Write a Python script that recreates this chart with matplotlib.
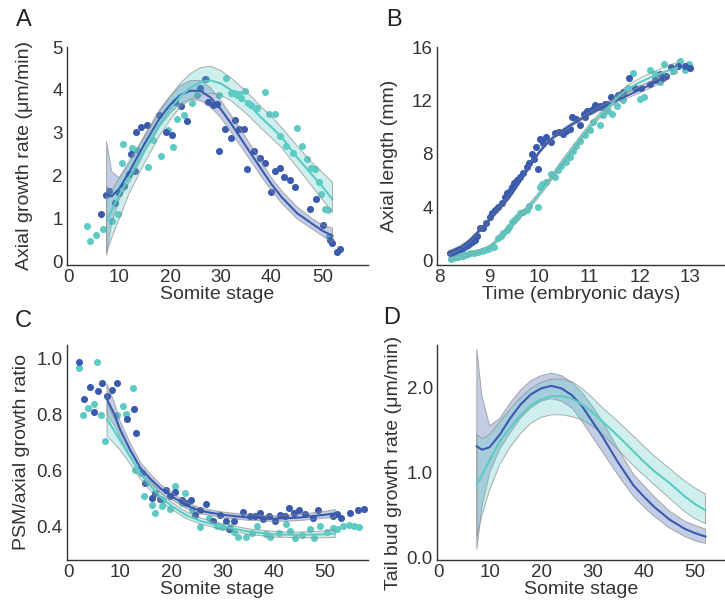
import matplotlib
matplotlib.use('Agg')
import matplotlib.pyplot as plt

plt.rcParams['font.family'] = ['Liberation Sans', 'DejaVu Sans']

BLUE = '#3a5aad'
CYAN = '#5ecac4'
TXT = '#333333'

# ---- panel A: axial growth rate vs somite stage
a_blue_x = [6.4, 7.3, 8.0, 9.2, 9.9, 11.0, 11.9, 12.4, 13.1, 13.3, 14.2, 15.4, 17.9, 19.3, 20.3, 21.0, 22.1, 23.3,
            25.9, 26.9, 27.5, 28.4, 29.3, 29.6, 30.8, 32.0, 32.8, 33.5, 34.6, 35.1, 36.5, 37.7, 38.7, 39.8, 40.6,
            41.7, 42.5, 43.6, 44.6, 47.5, 48.7, 50.1, 51.6, 52.0, 52.8, 53.4]
a_blue_y = [1.12, 1.55, 1.64, 1.37, 1.6, 1.75, 2.03, 2.5, 2.1, 3.02, 3.14, 3.19, 3.41, 3.02, 2.95, 3.72, 3.62, 3.28,
            4.05, 4.26, 3.72, 3.66, 3.68, 2.57, 3.08, 2.87, 3.31, 3.08, 3.08, 2.16, 2.58, 2.42, 2.29, 1.61, 2.12,
            2.19, 1.96, 1.9, 1.73, 1.22, 1.45, 0.85, 0.5, 0.43, 0.22, 0.29]
a_cyan_x = [3.6, 4.3, 5.5, 6.7, 8.65, 9.8, 10.5, 10.8, 12.5, 13.4, 15.7, 16.6, 18.3, 19.6, 20.6, 21.3, 22.7, 24.4,
            25.3, 27.1, 29.7, 31.1, 32.0, 32.6, 33.1, 33.6, 33.9, 34.7, 35.4, 36.0, 37.2, 38.7, 39.5, 40.6, 41.6,
            42.8, 44.2, 45.0, 46.0, 46.9, 47.7, 48.5, 49.3, 49.8, 50.5, 51.1, 51.4]
a_cyan_y = [0.84, 0.49, 0.61, 0.77, 0.94, 1.12, 2.3, 2.74, 2.64, 2.59, 2.21, 2.83, 2.46, 3.06, 2.67, 3.33, 3.42, 3.7,
            3.87, 4.26, 3.88, 4.27, 3.93, 3.93, 3.88, 3.9, 3.81, 3.98, 3.7, 3.64, 3.57, 3.94, 3.43, 3.43, 2.92,
            2.7, 2.54, 3.12, 2.7, 2.38, 2.17, 2.15, 1.86, 1.57, 1.22, 1.2, 0.6]
a_fit_x = [7.5, 8.5, 10, 12, 15, 18, 20, 22, 24, 26, 28, 30, 32, 35, 38, 40, 42, 45, 48, 50, 52]
a_blue_fit = [1.57, 1.52, 1.7, 2.1, 2.75, 3.35, 3.65, 3.88, 3.98, 3.98, 3.82, 3.55, 3.22, 2.68, 2.15, 1.8, 1.5, 1.13, 0.88, 0.72, 0.6]
a_blue_lo = [0.15, 0.9, 1.45, 1.85, 2.55, 3.15, 3.45, 3.68, 3.78, 3.75, 3.6, 3.35, 3.02, 2.5, 1.98, 1.65, 1.36, 1.0, 0.76, 0.6, 0.45]
a_blue_hi = [2.8, 2.1, 1.95, 2.3, 2.95, 3.55, 3.85, 4.1, 4.22, 4.22, 4.05, 3.75, 3.42, 2.88, 2.32, 1.95, 1.65, 1.28, 1.0, 0.85, 0.78]
a_cyan_fit = [0.95, 1.2, 1.55, 1.98, 2.6, 3.2, 3.55, 3.85, 4.05, 4.18, 4.22, 4.15, 4.0, 3.72, 3.35, 3.13, 2.9, 2.43, 2.02, 1.75, 1.45]
a_cyan_lo = [0.2, 0.55, 1.0, 1.6, 2.3, 2.95, 3.3, 3.6, 3.78, 3.88, 3.92, 3.88, 3.75, 3.45, 3.1, 2.88, 2.65, 2.2, 1.75, 1.45, 1.15]
a_cyan_hi = [1.75, 1.65, 1.95, 2.35, 2.9, 3.5, 3.85, 4.15, 4.38, 4.52, 4.55, 4.45, 4.28, 3.97, 3.6, 3.38, 3.12, 2.7, 2.3, 2.08, 1.85]

# ---- panel B: axial length vs time
b_blue_x = [8.22, 8.27, 8.32, 8.36, 8.39, 8.44, 8.48, 8.53, 8.58, 8.62, 8.65, 8.7, 8.72, 8.76, 8.82, 8.88, 8.94,
            9.02, 9.05, 9.12, 9.18, 9.25, 9.31, 9.36, 9.41, 9.45, 9.49, 9.55, 9.61, 9.68, 9.75, 9.8, 9.85, 9.9,
            9.93, 9.98, 10.01, 10.08, 10.14, 10.23, 10.32, 10.4, 10.48, 10.54, 10.61, 10.66, 10.74, 10.81, 10.88,
            10.9, 10.95, 11.0, 11.07, 11.1, 11.14, 11.2, 11.24, 11.3, 11.34, 11.43, 11.57, 11.67, 11.78, 11.9,
            12.02, 12.2, 12.3, 12.4, 12.47, 12.53, 12.62, 12.76, 12.9, 13.01]
b_blue_y = [0.62, 0.7, 0.77, 0.82, 0.87, 0.92, 1.0, 1.1, 1.2, 1.32, 1.45, 1.55, 1.6, 1.87, 2.5, 2.5, 2.86,
            3.3, 3.6, 3.8, 4.0, 4.3, 4.8, 5.05, 5.2, 5.5, 5.8, 6.05, 6.3, 6.6, 7.0, 7.3, 8.0, 7.65,
            8.5, 6.9, 9.15, 8.8, 9.3, 8.9, 9.6, 9.65, 9.5, 9.7, 9.9, 10.75, 10.65, 10.2, 11.0,
            10.77, 11.2, 11.25, 11.4, 11.7, 11.5, 11.6, 11.55, 11.77, 11.75, 12.26, 12.44, 12.6, 13.68, 12.9,
            12.95, 13.25, 13.5, 14.0, 13.7, 13.8, 14.5, 14.55, 14.6, 14.45]
b_cyan_x = [8.23, 8.27, 8.32, 8.37, 8.42, 8.47, 8.52, 8.57, 8.62, 8.7, 8.78, 8.85, 8.92, 8.97, 9.02, 9.1, 9.18,
            9.23, 9.28, 9.35, 9.4, 9.45, 9.5, 9.55, 9.61, 9.68, 9.75, 9.8, 10.02, 9.98, 10.05, 10.14, 10.24, 10.31,
            10.38, 10.44, 10.53, 10.61, 10.68, 10.74, 10.81, 10.91, 11.0, 11.07, 11.2, 11.27, 11.37, 11.44, 11.54,
            11.67, 11.77, 11.87, 12.0, 12.08, 12.2, 12.3, 12.4, 12.48, 12.67, 12.8, 12.9, 12.99]
b_cyan_y = [0.12, 0.25, 0.32, 0.3, 0.37, 0.4, 0.45, 0.5, 0.57, 0.62, 0.7, 0.75, 0.82, 0.9, 0.95, 1.07, 1.69,
            1.9, 2.06, 2.31, 2.56, 2.94, 3.06, 3.3, 3.56, 3.68, 3.8, 4.1, 5.5, 4.05, 5.75, 5.92, 6.54, 6.3,
            6.8, 7.1, 7.4, 7.8, 8.2, 8.6, 9.0, 9.4, 9.8, 10.4, 10.15, 10.9, 11.2, 11.0, 11.6,
            12.0, 12.95, 14.05, 12.1, 12.25, 14.3, 13.95, 13.4, 14.75, 14.2, 14.95, 14.25, 14.7]
b_blue_fit_x = [8.2, 8.4, 8.6, 8.8, 9.0, 9.2, 9.4, 9.6, 9.8, 10.0, 10.2, 10.4, 10.6, 10.8, 11.0, 11.2, 11.4,
                11.6, 11.8, 12.0, 12.2, 12.4, 12.5]
b_blue_fit = [0.62, 0.95, 1.5, 2.25, 3.05, 3.9, 4.75, 5.85, 7.05, 8.15, 9.0, 9.6, 10.1, 10.55, 11.0, 11.38, 11.75,
              12.1, 12.45, 12.8, 13.15, 13.55, 13.8]
b_blue_ci = [0.15, 0.12, 0.12, 0.12, 0.12, 0.12, 0.12, 0.12, 0.12, 0.12, 0.12, 0.12, 0.12, 0.12, 0.12, 0.14, 0.16,
             0.18, 0.2, 0.22, 0.25, 0.3, 0.35]
b_cyan_fit_x = [8.2, 8.4, 8.6, 8.8, 9.0, 9.2, 9.4, 9.6, 9.8, 10.0, 10.2, 10.4, 10.6, 10.8, 11.0, 11.2, 11.4,
                11.6, 11.8, 12.0, 12.2, 12.4, 12.6, 12.75]
b_cyan_fit = [0.15, 0.3, 0.5, 0.72, 1.05, 1.65, 2.45, 3.3, 4.1, 5.0, 6.0, 7.1, 8.1, 9.1, 10.05, 10.85, 11.6,
              12.4, 12.95, 13.35, 13.7, 14.0, 14.28, 14.45]
b_cyan_ci = [0.12, 0.1, 0.1, 0.1, 0.1, 0.12, 0.14, 0.16, 0.18, 0.18, 0.18, 0.18, 0.18, 0.18, 0.18, 0.2, 0.22,
             0.25, 0.28, 0.3, 0.32, 0.35, 0.38, 0.4]

# ---- panel C: PSM/axial growth ratio
c_blue_x = [2.1, 3.1, 4.1, 5.0, 5.8, 6.5, 7.5, 8.4, 9.4, 11.4, 12.7, 13.2, 14.3, 14.9, 16.2, 16.9, 17.9, 19.0,
            19.8, 20.8, 22.1, 23.1, 23.8, 24.7, 25.6, 26.9, 28.2, 29.5, 30.8, 31.2, 32.3, 34.0, 35.4, 36.4, 37.3,
            38.0, 39.0, 40.3, 41.2, 42.2, 43.0, 43.9, 45.0, 46.1, 47.6, 48.7, 51.5, 52.4, 53.1, 54.9, 56.4, 57.6]
c_blue_y = [0.99, 0.858, 0.9, 0.81, 0.884, 0.914, 0.869, 0.89, 0.914, 0.785, 0.82, 0.735, 0.59, 0.556, 0.502,
            0.52, 0.498, 0.53, 0.508, 0.522, 0.496, 0.484, 0.496, 0.44, 0.46, 0.48, 0.42, 0.44, 0.42, 0.39, 0.418,
            0.452, 0.437, 0.436, 0.45, 0.428, 0.438, 0.42, 0.44, 0.436, 0.465, 0.448, 0.459, 0.446, 0.43, 0.46,
            0.439, 0.446, 0.43, 0.45, 0.458, 0.464]
c_cyan_x = [2.1, 2.9, 3.7, 4.9, 5.5, 6.4, 7.1, 9.5, 10.6, 11.2, 12.5, 13.0, 13.6, 14.7, 16.2, 16.9, 18.2, 18.5,
            19.8, 20.8, 22.1, 22.7, 24.0, 25.6, 27.3, 28.9, 29.9, 31.5, 32.2, 33.1, 34.6, 35.8, 36.7, 38.5, 39.2,
            41.1, 42.4, 43.2, 44.1, 45.6, 47.1, 47.9, 49.0, 50.5, 51.5, 52.4, 53.5, 54.7, 55.6, 56.6]
c_cyan_y = [0.968, 0.8, 0.824, 0.84, 0.99, 0.8, 0.707, 0.8, 0.833, 0.803, 0.896, 0.603, 0.603, 0.51, 0.478,
            0.45, 0.474, 0.496, 0.462, 0.546, 0.484, 0.52, 0.458, 0.397, 0.43, 0.4, 0.398, 0.398, 0.38, 0.362,
            0.362, 0.376, 0.4, 0.373, 0.362, 0.376, 0.41, 0.385, 0.36, 0.37, 0.39, 0.36, 0.4, 0.38, 0.395, 0.39,
            0.4, 0.405, 0.4, 0.398]
c_fit_x = [7.5, 9, 10, 12, 14, 16, 18, 20, 23, 26, 30, 35, 40, 45, 50, 52]
c_blue_fit = [0.855, 0.8, 0.75, 0.675, 0.61, 0.57, 0.535, 0.51, 0.475, 0.455, 0.442, 0.432, 0.428, 0.432, 0.442, 0.447]
c_blue_lo = [0.80, 0.76, 0.72, 0.65, 0.59, 0.553, 0.52, 0.497, 0.464, 0.445, 0.432, 0.422, 0.418, 0.421, 0.43, 0.433]
c_blue_hi = [0.91, 0.84, 0.78, 0.70, 0.63, 0.587, 0.55, 0.523, 0.486, 0.465, 0.452, 0.442, 0.438, 0.443, 0.454, 0.461]
c_cyan_fit = [0.785, 0.74, 0.71, 0.65, 0.59, 0.545, 0.505, 0.475, 0.44, 0.418, 0.4, 0.382, 0.372, 0.37, 0.372, 0.375]
c_cyan_lo = [0.725, 0.695, 0.675, 0.625, 0.57, 0.528, 0.49, 0.462, 0.428, 0.407, 0.39, 0.372, 0.362, 0.36, 0.36, 0.361]
c_cyan_hi = [0.845, 0.785, 0.745, 0.675, 0.61, 0.562, 0.52, 0.488, 0.452, 0.429, 0.41, 0.392, 0.382, 0.38, 0.384, 0.389]

# ---- panel D: tail bud growth rate (fits only)
d_fit_x = [7.5, 8.5, 10, 12, 14, 16, 18, 20, 22, 24, 26, 28, 30, 32, 35, 38, 40, 42, 45, 48, 50, 52]
d_blue_fit = [1.31, 1.27, 1.3, 1.45, 1.64, 1.8, 1.92, 1.99, 2.02, 1.99, 1.91, 1.78, 1.6, 1.42, 1.12, 0.85, 0.72, 0.6,
              0.45, 0.34, 0.29, 0.25]
d_blue_lo = [0.1, 0.6, 1.0, 1.28, 1.47, 1.64, 1.76, 1.84, 1.87, 1.84, 1.76, 1.6, 1.42, 1.24, 0.97, 0.72, 0.6, 0.49,
             0.35, 0.25, 0.2, 0.17]
d_blue_hi = [2.45, 1.9, 1.55, 1.64, 1.82, 1.97, 2.08, 2.14, 2.17, 2.14, 2.06, 1.94, 1.78, 1.6, 1.28, 0.98, 0.85, 0.72,
             0.55, 0.43, 0.38, 0.34]
d_cyan_fit = [0.86, 0.97, 1.15, 1.37, 1.53, 1.67, 1.79, 1.86, 1.9, 1.9, 1.87, 1.8, 1.71, 1.6, 1.43, 1.25, 1.13, 1.02,
              0.88, 0.72, 0.63, 0.56]
d_cyan_lo = [0.25, 0.5, 0.8, 1.1, 1.3, 1.46, 1.58, 1.65, 1.68, 1.68, 1.66, 1.62, 1.55, 1.45, 1.27, 1.08, 0.97, 0.86,
             0.7, 0.54, 0.46, 0.4]
d_cyan_hi = [1.45, 1.4, 1.45, 1.6, 1.75, 1.88, 1.99, 2.06, 2.1, 2.1, 2.07, 1.99, 1.88, 1.76, 1.6, 1.43, 1.31, 1.2,
             1.05, 0.9, 0.82, 0.75]


def setup(ax, xlim, ylim, xticks, yticks, xlabel, ylabel, ylab_x, ylab_y=0.5):
    ax.set_xlim(*xlim)
    ax.set_ylim(*ylim)
    ax.set_xticks(xticks)
    ax.set_yticks(yticks)
    for s in ['top', 'right']:
        ax.spines[s].set_visible(False)
    for s in ['left', 'bottom']:
        ax.spines[s].set_color(TXT)
        ax.spines[s].set_linewidth(1.0)
    ax.tick_params(length=0, pad=3, labelsize=13.5, labelcolor=TXT)
    ax.set_xlabel(xlabel, fontsize=14, color=TXT, labelpad=0)
    ax.set_ylabel(ylabel, fontsize=14, color=TXT)
    ax.yaxis.set_label_coords(ylab_x, ylab_y)


def band(ax, x, lo, hi, color, alpha=0.3):
    ax.fill_between(x, lo, hi, facecolor=color, alpha=alpha, zorder=2)
    ax.fill_between(x, lo, hi, facecolor='none', edgecolor='#8c8c8c', linewidth=0.7, alpha=0.7, zorder=2)


fig = plt.figure(figsize=(7.25, 6.05), dpi=100)
W, H = 725.0, 605.0
axA = fig.add_axes([67 / W, 1 - 265 / H, 301 / W, 218 / H])
axB = fig.add_axes([437 / W, 1 - 265 / H, 288 / W, 218 / H])
axC = fig.add_axes([67 / W, 1 - 560 / H, 301 / W, 215 / H])
axD = fig.add_axes([437 / W, 1 - 560 / H, 288 / W, 215 / H])

# A
axA.scatter(a_cyan_x, a_cyan_y, s=26, color=CYAN, linewidths=0, zorder=1)
axA.scatter(a_blue_x, a_blue_y, s=26, color=BLUE, linewidths=0, zorder=1)
band(axA, a_fit_x, a_blue_lo, a_blue_hi, BLUE)
band(axA, a_fit_x, a_cyan_lo, a_cyan_hi, CYAN)
axA.plot(a_fit_x, a_blue_fit, color=BLUE, lw=1.5, zorder=3)
axA.plot(a_fit_x, a_cyan_fit, color=CYAN, lw=1.5, zorder=3)
setup(axA, (-0.3, 59), (-0.08, 5.0), [0, 10, 20, 30, 40, 50], [0, 1, 2, 3, 4, 5],
      'Somite stage', 'Axial growth rate (\u03bcm/min)', -0.113)

# B
axB.scatter(b_cyan_x, b_cyan_y, s=26, color=CYAN, linewidths=0, zorder=1)
axB.scatter(b_blue_x, b_blue_y, s=26, color=BLUE, linewidths=0, zorder=1)
band(axB, b_blue_fit_x, [v - e for v, e in zip(b_blue_fit, b_blue_ci)],
     [v + e for v, e in zip(b_blue_fit, b_blue_ci)], BLUE, alpha=0.15)
band(axB, b_cyan_fit_x, [v - e for v, e in zip(b_cyan_fit, b_cyan_ci)],
     [v + e for v, e in zip(b_cyan_fit, b_cyan_ci)], CYAN, alpha=0.15)
axB.plot(b_blue_fit_x, b_blue_fit, color=BLUE, lw=1.5, zorder=3)
axB.plot(b_cyan_fit_x, b_cyan_fit, color=CYAN, lw=1.5, zorder=3)
setup(axB, (7.96, 13.7), (-0.3, 16), [8, 9, 10, 11, 12, 13], [0, 4, 8, 12, 16],
      'Time (embryonic days)', 'Axial length (mm)', -0.135)

# C
axC.scatter(c_cyan_x, c_cyan_y, s=26, color=CYAN, linewidths=0, zorder=1)
axC.scatter(c_blue_x, c_blue_y, s=26, color=BLUE, linewidths=0, zorder=1)
band(axC, c_fit_x, c_blue_lo, c_blue_hi, BLUE)
band(axC, c_fit_x, c_cyan_lo, c_cyan_hi, CYAN)
axC.plot(c_fit_x, c_blue_fit, color=BLUE, lw=1.5, zorder=3)
axC.plot(c_fit_x, c_cyan_fit, color=CYAN, lw=1.5, zorder=3)
setup(axC, (-0.3, 58.4), (0.28, 1.05), [0, 10, 20, 30, 40, 50], [0.4, 0.6, 0.8, 1.0],
      'Somite stage', 'PSM/axial growth ratio', -0.123)

# D
band(axD, d_fit_x, d_blue_lo, d_blue_hi, BLUE)
band(axD, d_fit_x, d_cyan_lo, d_cyan_hi, CYAN)
axD.plot(d_fit_x, d_blue_fit, color=BLUE, lw=1.5, zorder=3)
axD.plot(d_fit_x, d_cyan_fit, color=CYAN, lw=1.5, zorder=3)
setup(axD, (-0.25, 55.8), (-0.025, 2.5), [0, 10, 20, 30, 40, 50], [0.0, 1.0, 2.0],
      'Somite stage', 'Tail bud growth rate (\u03bcm/min)', -0.122, ylab_y=0.45)
axD.set_yticklabels(['0.0', '1.0', '2.0'])

# panel letters
for lab, x, y in [('A', 16, 26), ('B', 386, 26), ('C', 15, 327), ('D', 383, 324)]:
    fig.text(x / W, 1 - y / H, lab, fontsize=17, color='#222222', va='baseline', ha='left')

fig.savefig('out.png', dpi=100)
